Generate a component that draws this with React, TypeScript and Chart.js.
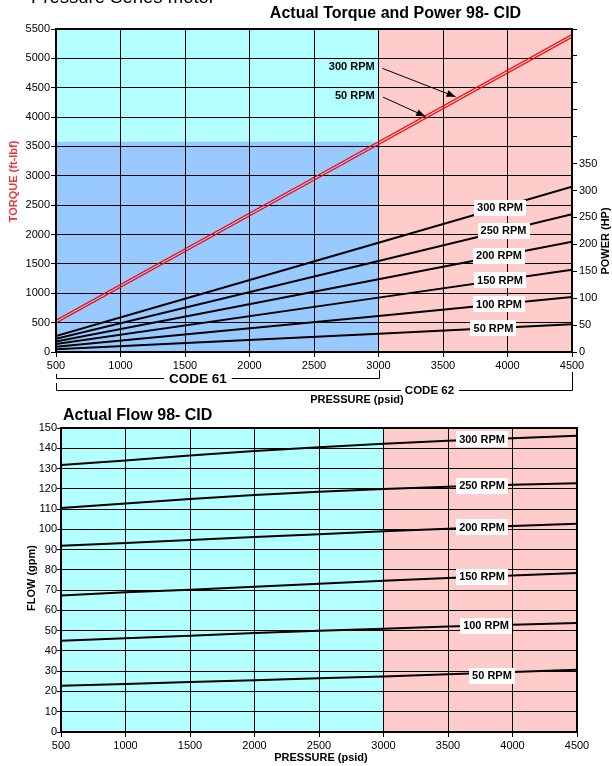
import React, { useEffect, useRef } from "react";
import { Chart, registerables } from "chart.js";

Chart.register(...registerables);

const FONT = "'Liberation Sans', Arial, Helvetica, sans-serif";

// ---------- Top chart data: Actual Torque and Power ----------
const pressureTicks = [500, 1000, 1500, 2000, 2500, 3000, 3500, 4000, 4500];
const torquePressure = [500, 3000, 4500];
const torque300 = [540, 3580, 5405];
const torque50 = [494, 3534, 5358];

const powerPressure = [500, 3000, 4500];
const power300 = [29.5, 203, 307];
const power250 = [24.6, 169, 256];
const power200 = [19.7, 135, 205];
const power150 = [14.7, 101, 153];
const power100 = [9.8, 67, 102];
const power50 = [4.9, 34, 51.5];
const powerLabels = ["300 RPM", "250 RPM", "200 RPM", "150 RPM", "100 RPM", "50 RPM"];

// Code 61 region (blue box) limits
const code61MaxPressure = 3000;
const code61MaxTorque = 3580;

// ---------- Bottom chart data: Actual Flow ----------
const flowPressure = [500, 1000, 1500, 2000, 2500, 3000, 3500, 4000, 4500];
const flow300 = [131.8, 134.0, 136.4, 138.6, 140.5, 142.2, 143.7, 145.0, 146.2];
const flow250 = [110.5, 112.8, 115.0, 116.9, 118.5, 119.9, 121.0, 122.0, 122.8];
const flow200 = [91.9, 93.2, 94.7, 96.2, 97.6, 99.0, 100.3, 101.6, 102.8];
const flow150 = [67.4, 68.9, 70.2, 71.7, 73.2, 74.6, 76.0, 77.2, 78.4];
const flow100 = [45.0, 46.2, 47.5, 48.8, 49.9, 51.0, 52.0, 52.9, 53.8];
const flow50 = [22.8, 23.7, 24.7, 25.5, 26.5, 27.4, 28.5, 29.6, 30.7];
const flowLabels = ["300 RPM", "250 RPM", "200 RPM", "150 RPM", "100 RPM", "50 RPM"];

const CYAN = "#b3ffff";
const PINK = "#ffcccc";
const BLUE = "#99caff";

const pts = (xs: number[], ys: number[]) => xs.map((x, i) => ({ x, y: ys[i] }));

function interp(data: { x: number; y: number }[], x: number) {
  for (let k = 0; k < data.length - 1; k++) {
    if (x >= data[k].x && x <= data[k + 1].x) {
      const t = (x - data[k].x) / (data[k + 1].x - data[k].x);
      return data[k].y + t * (data[k + 1].y - data[k].y);
    }
  }
  return data[data.length - 1].y;
}

// ---------- plugins ----------
const bgPlugin = {
  id: "bgRegions",
  beforeDraw(chart: any, _a: any, opts: any) {
    const { ctx, chartArea: a, scales } = chart;
    const x = scales.x;
    ctx.save();
    for (const r of opts.regions || []) {
      const ys = scales[r.yAxis || "y"];
      const x0 = x.getPixelForValue(r.x0);
      const x1 = x.getPixelForValue(r.x1);
      const y0 = r.yTop != null ? ys.getPixelForValue(r.yTop) : a.top;
      const y1 = r.yBottom != null ? ys.getPixelForValue(r.yBottom) : a.bottom;
      ctx.fillStyle = r.color;
      ctx.fillRect(x0, y0, x1 - x0, y1 - y0);
    }
    ctx.restore();
  },
};

const framePlugin = {
  id: "frame",
  afterDatasetsDraw(chart: any) {
    const { ctx, chartArea: a } = chart;
    ctx.save();
    ctx.strokeStyle = "#000";
    ctx.lineWidth = 2;
    ctx.strokeRect(a.left, a.top, a.right - a.left, a.bottom - a.top);
    ctx.restore();
  },
};

const lineLabelPlugin = {
  id: "lineLabels",
  afterDraw(chart: any) {
    const { ctx } = chart;
    ctx.save();
    chart.data.datasets.forEach((ds: any, i: number) => {
      if (ds.labelAt == null) return;
      const meta = chart.getDatasetMeta(i);
      const xs = chart.scales[meta.xAxisID];
      const ys = chart.scales[meta.yAxisID];
      const v = interp(ds.data, ds.labelAt);
      const px = xs.getPixelForValue(ds.labelAt);
      const py = ys.getPixelForValue(v) + (ds.labelDy || 0);
      ctx.font = `bold 11px ${FONT}`;
      const w = Math.round(ctx.measureText(ds.label).width + 6);
      const h = 16;
      ctx.fillStyle = "#fff";
      ctx.fillRect(Math.round(px - w / 2), Math.round(py - h / 2), w, h);
      ctx.fillStyle = "#000";
      ctx.textAlign = "center";
      ctx.textBaseline = "middle";
      ctx.fillText(ds.label, px, py + 0.5);
    });
    ctx.restore();
  },
};

const textPlugin = {
  id: "texts",
  afterDraw(chart: any, _a: any, opts: any) {
    const { ctx } = chart;
    for (const t of opts.items || []) {
      ctx.save();
      ctx.font = t.font;
      ctx.fillStyle = t.color || "#000";
      ctx.textAlign = t.align || "center";
      ctx.textBaseline = t.baseline || "middle";
      ctx.translate(t.x, t.y);
      if (t.rotate) ctx.rotate(t.rotate);
      ctx.fillText(t.text, 0, 0);
      ctx.restore();
    }
  },
};

const arrowPlugin = {
  id: "arrows",
  afterDraw(chart: any, _a: any, opts: any) {
    const { ctx, scales } = chart;
    const x = scales.x;
    const y = scales.y;
    for (const ar of opts.items || []) {
      const ds = chart.data.datasets[ar.dataset];
      ctx.save();
      ctx.font = `bold 11px ${FONT}`;
      ctx.fillStyle = "#000";
      ctx.textAlign = "right";
      ctx.textBaseline = "middle";
      ctx.fillText(ar.text, x.getPixelForValue(ar.labelX), y.getPixelForValue(ar.labelY));
      const sx = x.getPixelForValue(ar.startX);
      const sy = y.getPixelForValue(ar.startY);
      let tx = x.getPixelForValue(ar.tipX);
      let ty = y.getPixelForValue(interp(ds.data, ar.tipX));
      const ang = Math.atan2(ty - sy, tx - sx);
      tx -= Math.cos(ang) * 2.5;
      ty -= Math.sin(ang) * 2.5;
      ctx.strokeStyle = "#000";
      ctx.lineWidth = 1;
      ctx.beginPath();
      ctx.moveTo(sx, sy);
      ctx.lineTo(tx, ty);
      ctx.stroke();
      const L = 9, W = 3.5;
      ctx.beginPath();
      ctx.moveTo(tx, ty);
      ctx.lineTo(tx - L * Math.cos(ang) + W * Math.sin(ang), ty - L * Math.sin(ang) - W * Math.cos(ang));
      ctx.lineTo(tx - L * Math.cos(ang) - W * Math.sin(ang), ty - L * Math.sin(ang) + W * Math.cos(ang));
      ctx.closePath();
      ctx.fill();
      ctx.restore();
    }
  },
};

const bracketPlugin = {
  id: "codeBrackets",
  afterDraw(chart: any) {
    const { ctx, chartArea: a, scales } = chart;
    const x = scales.x;
    const b = a.bottom;
    const px = (v: number) => Math.round(x.getPixelForValue(v)) + 0.5;
    const p500 = px(500), p3000 = px(3000), p4500 = px(4500);
    ctx.save();
    ctx.strokeStyle = "#000";
    ctx.fillStyle = "#000";
    ctx.lineWidth = 1;
    const seg = (x0: number, y0: number, x1: number, y1: number) => {
      ctx.beginPath();
      ctx.moveTo(x0, y0);
      ctx.lineTo(x1, y1);
      ctx.stroke();
    };
    // CODE 61
    const y61 = Math.round(b + 26) + 0.5;
    seg(p500, b + 22, p500, y61);
    seg(p3000, b + 18, p3000, y61);
    ctx.font = `bold 13.5px ${FONT}`;
    ctx.textAlign = "center";
    ctx.textBaseline = "middle";
    const c61 = x.getPixelForValue(1600);
    const w61 = ctx.measureText("CODE 61").width;
    ctx.fillText("CODE 61", c61, y61 + 0.5);
    seg(p500, y61, c61 - w61 / 2 - 5, y61);
    seg(c61 + w61 / 2 + 5, y61, p3000, y61);
    // CODE 62
    const y62 = Math.round(b + 38) + 0.5;
    seg(p500, b + 31, p500, y62);
    seg(p4500, b + 20, p4500, y62);
    ctx.font = `bold 11.5px ${FONT}`;
    const c62 = x.getPixelForValue(3395);
    const w62 = ctx.measureText("CODE 62").width;
    ctx.fillText("CODE 62", c62, y62 + 0.5);
    seg(p500, y62, c62 - w62 / 2 - 4, y62);
    seg(c62 + w62 / 2 + 5, y62, p4500, y62);
    ctx.restore();
  },
};

const tickFont = { family: FONT, size: 11 };
const plain = (v: number) => String(v);

function xScale(height: number) {
  return {
    type: "linear",
    min: pressureTicks[0],
    max: pressureTicks[pressureTicks.length - 1],
    afterBuildTicks: (s: any) => {
      s.ticks = pressureTicks.map((v) => ({ value: v }));
    },
    ticks: { font: tickFont, color: "#000", padding: 2, maxRotation: 0, autoSkip: false, callback: plain },
    grid: { color: "#000", lineWidth: 1, tickLength: 5 },
    border: { display: false },
    afterFit: (s: any) => {
      s.height = height;
    },
  };
}

function topConfig(): any {
  const torque = [
    { label: "300 RPM torque", data: pts(torquePressure, torque300) },
    { label: "50 RPM torque", data: pts(torquePressure, torque50) },
  ].map((d) => ({ ...d, yAxisID: "y", borderColor: "#ff0000", borderWidth: 1.3, pointRadius: 0, fill: false }));
  const powerSeries = [power300, power250, power200, power150, power100, power50];
  const powerLabelAt = [3942, 3969, 3934, 3942, 3934, 3891];
  const power = powerSeries.map((vals, i) => ({
    label: powerLabels[i],
    data: pts(powerPressure, vals),
    yAxisID: "y1",
    borderColor: "#000",
    borderWidth: 2,
    pointRadius: 0,
    fill: false,
    labelAt: powerLabelAt[i],
  }));
  return {
    type: "line",
    data: { datasets: [...torque, ...power] },
    plugins: [bgPlugin, framePlugin, lineLabelPlugin, arrowPlugin, bracketPlugin, textPlugin],
    options: {
      responsive: false,
      animation: false,
      devicePixelRatio: 1,
      layout: { padding: { top: 29, left: 0, right: 0, bottom: 0 } },
      scales: {
        x: xScale(58),
        y: {
          type: "linear",
          position: "left",
          min: 0,
          max: 5500,
          ticks: { stepSize: 500, font: tickFont, color: "#000", padding: 1, callback: plain },
          grid: { color: "#000", lineWidth: 1, tickLength: 5 },
          border: { display: false },
          afterFit: (s: any) => {
            s.width = 56;
          },
        },
        y1: {
          type: "linear",
          position: "right",
          min: 0,
          max: 600,
          ticks: {
            stepSize: 50,
            font: tickFont,
            color: "#000",
            padding: 2,
            callback: (v: number) => (v <= 350 ? String(v) : ""),
          },
          grid: { drawOnChartArea: false, color: "#000", lineWidth: 1, tickLength: 5 },
          border: { display: false },
          afterFit: (s: any) => {
            s.width = 40;
          },
        },
      },
      plugins: {
        legend: { display: false },
        tooltip: { enabled: false },
        bgRegions: {
          regions: [
            { x0: 500, x1: code61MaxPressure, color: CYAN },
            { x0: code61MaxPressure, x1: 4500, color: PINK },
            { x0: 500, x1: code61MaxPressure, yTop: code61MaxTorque, yBottom: 0, color: BLUE },
          ],
        },
        arrows: {
          items: [
            { text: "300 RPM", dataset: 0, labelX: 2970, labelY: 4860, startX: 3030, startY: 4830, tipX: 3616 },
            { text: "50 RPM", dataset: 1, labelX: 2970, labelY: 4365, startX: 3035, startY: 4340, tipX: 3380 },
          ],
        },
        texts: {
          items: [
            { text: "Pressure Series motor", x: 31, y: 3, font: `18.5px ${FONT}`, align: "left", baseline: "alphabetic" },
            { text: "Actual Torque and Power 98- CID", x: 395.5, y: 14, font: `bold 16px ${FONT}` },
            { text: "TORQUE (ft-lbf)", x: 13.5, y: 181.5, font: `bold 11px ${FONT}`, color: "#ee3333", rotate: -Math.PI / 2 },
            { text: "POWER (HP)", x: 606, y: 241, font: `bold 11px ${FONT}`, rotate: -Math.PI / 2 },
            { text: "PRESSURE (psid)", x: 357, y: 400, font: `bold 11px ${FONT}` },
          ],
        },
      },
    },
  };
}

function bottomConfig(): any {
  const flowSeries = [flow300, flow250, flow200, flow150, flow100, flow50];
  const flowLabelAt = [3764, 3764, 3764, 3764, 3795, 3841];
  const flowLabelDy = [0, 0, 0, 0, 0, 3];
  const ds = flowSeries.map((vals, i) => ({
    label: flowLabels[i],
    data: pts(flowPressure, vals),
    yAxisID: "y",
    borderColor: "#000",
    borderWidth: 2,
    pointRadius: 0,
    fill: false,
    labelAt: flowLabelAt[i],
    labelDy: flowLabelDy[i],
  }));
  return {
    type: "line",
    data: { datasets: ds },
    plugins: [bgPlugin, framePlugin, lineLabelPlugin, textPlugin],
    options: {
      responsive: false,
      animation: false,
      devicePixelRatio: 1,
      layout: { padding: { top: 28, left: 0, right: 35, bottom: 0 } },
      scales: {
        x: xScale(34),
        y: {
          type: "linear",
          position: "left",
          min: 0,
          max: 150,
          ticks: { stepSize: 10, font: tickFont, color: "#000", padding: 0, callback: plain },
          grid: { color: "#000", lineWidth: 1, tickLength: 4 },
          border: { display: false },
          afterFit: (s: any) => {
            s.width = 61;
          },
        },
      },
      plugins: {
        legend: { display: false },
        tooltip: { enabled: false },
        bgRegions: {
          regions: [
            { x0: 500, x1: code61MaxPressure, color: CYAN },
            { x0: code61MaxPressure, x1: 4500, color: PINK },
          ],
        },
        texts: {
          items: [
            { text: "Actual Flow 98- CID", x: 63, y: 20, font: `bold 16px ${FONT}`, align: "left", baseline: "alphabetic" },
            { text: "FLOW (gpm)", x: 31.5, y: 178, font: `bold 11px ${FONT}`, rotate: -Math.PI / 2 },
            { text: "PRESSURE (psid)", x: 321, y: 358, font: `bold 11px ${FONT}` },
          ],
        },
      },
    },
  };
}

export default function App() {
  const topRef = useRef<HTMLCanvasElement>(null);
  const botRef = useRef<HTMLCanvasElement>(null);
  useEffect(() => {
    const c1 = new Chart(topRef.current as HTMLCanvasElement, topConfig());
    const c2 = new Chart(botRef.current as HTMLCanvasElement, bottomConfig());
    return () => {
      c1.destroy();
      c2.destroy();
    };
  }, []);
  return (
    <div style={{ position: "absolute", left: 0, top: 0, width: 612, height: 766, background: "#fff" }}>
      <canvas ref={topRef} width={612} height={410} style={{ position: "absolute", left: 0, top: 0 }} />
      <canvas ref={botRef} width={612} height={366} style={{ position: "absolute", left: 0, top: 400 }} />
    </div>
  );
}
